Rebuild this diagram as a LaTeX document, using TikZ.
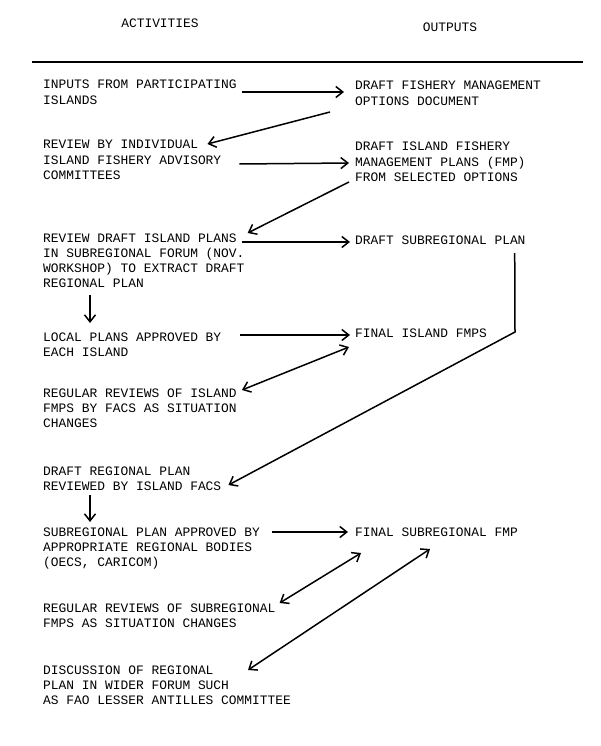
\documentclass[tikz,border=0pt]{standalone}
\usepackage{fontspec}
\usepackage{tikz}
\usetikzlibrary{arrows.meta,positioning,calc}
\newfontfamily\typer{Liberation Mono}
% first line of the block is its baseline
\newcommand{\blk}[1]{\begin{tabular}[t]{@{}l@{}}#1\end{tabular}}

\begin{document}
\begin{tikzpicture}[x=1pt,y=-1pt,
          txt/.style={anchor=base west,inner sep=0pt,
                      font=\typer\fontsize{12.9}{15.3}\selectfont},
          hd/.style={inner sep=0pt,font=\typer\fontsize{12.9}{15.3}\selectfont},
          arr/.style={line width=1.5pt,-{Straight Barb[length=7pt,width=11pt]}},
          dbl/.style={line width=1.5pt,{Straight Barb[length=7pt,width=11pt]}-{Straight Barb[length=7pt,width=11pt]}}]
          \useasboundingbox (0,0) rectangle (600,746);
          % headings
          \node[hd] (act) at (160,23) {ACTIVITIES};
          \node[hd] (out) at (450,27) {OUTPUTS};
          \coordinate (r1) at (32,62);
          \coordinate (r2) at (583,62);
          \draw[line width=1.4pt] (r1) -- (r2);
          % activities
          \node[txt] (inputs)   at (43,89)  {\blk{INPUTS FROM PARTICIPATING\\ISLANDS}};
          \node[txt] (review)   at (43,149) {\blk{REVIEW BY INDIVIDUAL\\ISLAND FISHERY ADVISORY\\COMMITTEES}};
          \node[txt] (forum)    at (43,242) {\blk{REVIEW DRAFT ISLAND PLANS\\IN SUBREGIONAL FORUM (NOV.\\WORKSHOP) TO EXTRACT DRAFT\\REGIONAL PLAN}};
          \node[txt] (local)    at (43,341) {\blk{LOCAL PLANS APPROVED BY\\EACH ISLAND}};
          \node[txt] (regisl)   at (43,397) {\blk{REGULAR REVIEWS OF ISLAND\\FMPS BY FACS AS SITUATION\\CHANGES}};
          \node[txt] (draftreg) at (43,475) {\blk{DRAFT REGIONAL PLAN\\REVIEWED BY ISLAND FACS}};
          \node[txt] (subappr)  at (43,536) {\blk{SUBREGIONAL PLAN APPROVED BY\\APPROPRIATE REGIONAL BODIES\\(OECS, CARICOM)}};
          \node[txt] (regsub)   at (43,612) {\blk{REGULAR REVIEWS OF SUBREGIONAL\\FMPS AS SITUATION CHANGES}};
          \node[txt] (wider)    at (43,674) {\blk{DISCUSSION OF REGIONAL\\PLAN IN WIDER FORUM SUCH\\AS FAO LESSER ANTILLES COMMITTEE}};
          % outputs
          \node[txt] (options)  at (355,90)  {\blk{DRAFT FISHERY MANAGEMENT\\OPTIONS DOCUMENT}};
          \node[txt] (islplans) at (355,151) {\blk{DRAFT ISLAND FISHERY\\MANAGEMENT PLANS (FMP)\\FROM SELECTED OPTIONS}};
          \node[txt] (subplan)  at (355,244) {DRAFT SUBREGIONAL PLAN};
          \node[txt] (finalisl) at (355,337) {FINAL ISLAND FMPS};
          \node[txt] (finalsub) at (355,536) {FINAL SUBREGIONAL FMP};
          % connectors
          \draw[arr] ([shift={(5,3)}]inputs.base east) -- ([shift={(-11,2)}]options.base west);
          \draw[arr] ([shift={(-25,22)}]options.base west) -- ([shift={(-14,-5)}]review.base east);
          \draw[arr] ([shift={(18,15)}]review.base east) -- ([shift={(-6,12)}]islplans.base west);
          \draw[arr] ([shift={(-6,31)}]islplans.base west) -- ([shift={(3,-9)}]forum.base east);
          \draw[arr] ([shift={(-3,0)}]forum.base east) -- ([shift={(-5,-2)}]subplan.base west);
          \draw[arr] ([shift={(47,53)}]forum.base west) -- ([shift={(47,-18)}]local.base west);
          \draw[arr] ([shift={(19,-6)}]local.base east) -- ([shift={(-5,-2)}]finalisl.base west);
          \draw[dbl] ([shift={(-6,10)}]finalisl.base west) -- ([shift={(5,-7)}]regisl.base east);
          \coordinate (bend) at (515,332);
          \draw[arr] ([shift={(-11,9)}]subplan.base east) -- (bend) -- ([shift={(7,10)}]draftreg.base east);
          \draw[arr] ([shift={(47,20)}]draftreg.base west) -- ([shift={(47,-14)}]subappr.base west);
          \draw[arr] ([shift={(12,-4)}]subappr.base east) -- ([shift={(-7,-4)}]finalsub.base west);
          \draw[dbl] ([shift={(6,17)}]finalsub.base west) -- ([shift={(4,-9)}]regsub.base east);
          \draw[dbl] ([shift={(75,13)}]finalsub.base west) -- ([shift={(205,-4)}]wider.base west);
        \end{tikzpicture}
\end{document}
